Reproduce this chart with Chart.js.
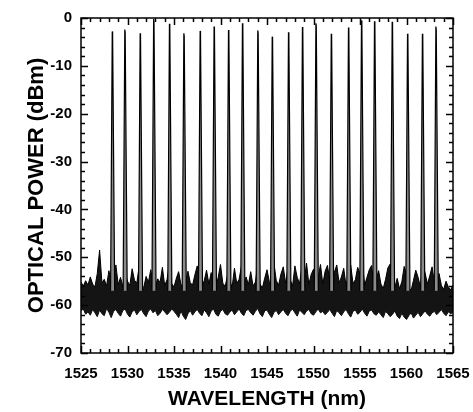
<!DOCTYPE html>
<html>
<head>
<meta charset="utf-8">
<script src="https://cdn.jsdelivr.net/npm/chart.js@4.4.1/dist/chart.umd.min.js"></script>
<style>
  html, body { margin: 0; padding: 0; background: #fff; }
</style>
</head>
<body>
<canvas id="spectrum" width="473" height="412"></canvas>
<script>
'use strict';

// channel wavelengths (nm) and peak powers (dBm)
const peakCenters = [1528.4, 1529.75, 1531.4, 1532.85, 1534.55, 1536.1, 1537.85, 1539.35, 1540.9, 1542.4, 1544.05,
  1545.6, 1547.35, 1548.85, 1550.3, 1551.95, 1553.8, 1555.2, 1556.6, 1558.5, 1560.15, 1561.75, 1563.2];
const peakTops = [-3.4, -3.0, -3.8, -0.8, -1.8, -3.8, -3.3, -2.4, -3.1, -1.7, -3.2,
  -4.5, -3.6, -2.5, -1.7, -3.9, -2.6, -1.1, -1.3, -1.4, -3.9, -3.9, -2.4];
const peakFloor = -57;

// noise floor envelope, sampled every 0.25 nm from 1525 nm
const noiseStart = 1525;
const noiseStep = 0.25;
const noiseTop = [
  -55.2, -56.0, -54.9, -55.8, -54.1, -55.6, -56.2, -53.4,
  -48.5, -55.3, -54.6, -56.0, -52.8, -55.1, -54.3, -51.6,
  -55.7, -54.2, -56.1, -53.3, -55.0, -55.9, -52.4, -54.8,
  -55.4, -51.9, -55.8, -56.3, -54.0, -55.2, -52.6, -55.6,
  -56.0, -54.5, -55.3, -52.1, -55.9, -54.7, -51.4, -55.5,
  -56.2, -54.4, -53.0, -55.7, -56.1, -55.0, -52.9, -55.3,
  -55.8, -53.6, -51.8, -55.4, -56.0, -54.9, -52.7, -55.6,
  -53.2, -55.9, -56.3, -54.2, -51.5, -55.4, -56.1, -53.8,
  -55.0, -56.2, -52.3, -55.5, -54.6, -51.9, -55.8, -54.1,
  -55.7, -53.0, -56.0, -55.2, -51.6, -55.6, -56.4, -54.4,
  -52.6, -55.1, -56.2, -51.3, -54.9, -55.8, -53.5, -52.0,
  -55.4, -52.4, -54.7, -56.0, -51.8, -54.2, -55.5, -52.2,
  -55.0, -51.2, -55.7, -53.6, -52.5, -56.0, -54.3, -51.5,
  -55.6, -52.9, -51.7, -54.8, -56.2, -53.1, -51.6, -55.3,
  -54.1, -52.3, -56.0, -53.7, -51.6, -55.5, -54.7, -52.1,
  -53.4, -51.1, -55.8, -54.2, -52.6, -51.7, -56.1, -54.5,
  -52.8, -55.6, -56.5, -54.6, -52.2, -51.4, -55.2, -56.3,
  -54.4, -56.6, -55.1, -51.9, -53.6, -56.4, -56.9, -54.8,
  -52.7, -54.2, -56.3, -51.5, -53.3, -55.6, -53.9, -52.0,
  -55.3, -56.5, -53.4, -55.9, -56.7, -55.0, -56.2, -56.8,
  -55.8
];
const noiseBottom = [
  -61.2, -60.8, -61.9, -61.4, -62.1, -60.9, -61.6, -62.4,
  -61.0, -61.8, -62.2, -60.7, -61.5, -62.6, -61.3, -60.9,
  -61.7, -62.3, -61.1, -60.8, -61.9, -62.5, -61.4, -61.0,
  -62.0, -61.3, -60.9, -61.8, -62.4, -61.2, -60.8, -61.6,
  -61.1, -62.2, -61.7, -60.9, -61.4, -62.0, -61.5, -60.8,
  -61.3, -61.9, -62.6, -61.2, -62.3, -63.0, -61.8, -61.1,
  -62.1, -61.4, -60.9, -61.7, -62.2, -61.0, -61.6, -62.4,
  -61.2, -60.8, -61.9, -62.3, -61.3, -60.9, -61.8, -62.1,
  -61.5, -61.0, -62.0, -61.4, -60.8, -61.7, -62.2, -61.1,
  -60.9, -61.6, -62.1, -61.3, -60.7, -61.8, -62.4, -61.2,
  -61.0, -61.9, -62.6, -61.5, -61.1, -62.0, -61.4, -60.9,
  -61.7, -62.2, -61.3, -60.8, -61.6, -62.3, -61.0, -61.5,
  -62.0, -61.2, -60.9, -61.8, -62.1, -61.4, -60.8, -61.6,
  -61.3, -62.0, -61.5, -60.9, -61.7, -62.4, -61.1, -61.6,
  -62.2, -61.4, -60.9, -61.8, -62.5, -61.3, -61.0, -61.9,
  -61.5, -60.8, -61.7, -62.3, -61.2, -61.0, -61.8, -62.1,
  -61.4, -62.0, -62.6, -61.3, -61.8, -62.4, -61.9, -61.2,
  -62.3, -62.8, -61.7, -62.5, -63.0, -62.2, -61.6, -62.7,
  -62.1, -61.5, -62.4, -61.8, -61.2, -61.9, -62.3, -61.6,
  -61.3, -62.0, -61.5, -60.9, -61.7, -62.2, -61.4, -61.8,
  -61.5
];

const xTicks = [1525, 1530, 1535, 1540, 1545, 1550, 1555, 1560, 1565];
const yTicks = [0, -10, -20, -30, -40, -50, -60, -70];

const FONT = '"Liberation Sans", Arial, Helvetica, sans-serif';

const toPoints = (vals) => vals.map((v, i) => ({ x: noiseStart + i * noiseStep, y: v }));

const peakSets = peakCenters.map((c, i) => ({
  data: [
    { x: c - 0.22, y: peakFloor },
    { x: c - 0.04, y: peakTops[i] + 0.6 },
    { x: c, y: peakTops[i] },
    { x: c + 0.22, y: peakFloor },
  ],
  borderColor: '#000',
  backgroundColor: '#8a8a8a',
  borderWidth: 1.2,
  pointRadius: 0,
  fill: { value: peakFloor },
}));

// inward ticks on all four sides plus the frame
const innerTicks = {
  id: 'innerTicks',
  afterDraw(chart) {
    const { ctx, chartArea: a, scales: { x, y } } = chart;
    ctx.save();
    ctx.strokeStyle = '#000';
    ctx.lineWidth = 1.5;
    ctx.beginPath();
    for (let v = xTicks[0]; v <= xTicks[xTicks.length - 1]; v += 1) {
      const px = Math.round(x.getPixelForValue(v)) + 0.5;
      const len = v % 5 === 0 ? 7 : 4;
      ctx.moveTo(px, a.bottom); ctx.lineTo(px, a.bottom - len);
      ctx.moveTo(px, a.top); ctx.lineTo(px, a.top + len);
    }
    for (let v = yTicks[yTicks.length - 1]; v <= yTicks[0]; v += 2) {
      const py = Math.round(y.getPixelForValue(v)) + 0.5;
      const len = v % 10 === 0 ? 7 : 4;
      ctx.moveTo(a.left, py); ctx.lineTo(a.left + len, py);
      ctx.moveTo(a.right, py); ctx.lineTo(a.right - len, py);
    }
    ctx.stroke();
    ctx.strokeRect(a.left, a.top, a.width, a.height);
    ctx.restore();
  },
};

new Chart(document.getElementById('spectrum'), {
  type: 'line',
  data: {
    datasets: [
      ...peakSets,
      {
        data: toPoints(noiseTop),
        borderColor: '#000',
        backgroundColor: '#141414',
        borderWidth: 1,
        pointRadius: 0,
        fill: '+1',
      },
      {
        data: toPoints(noiseBottom),
        borderColor: '#000',
        borderWidth: 1,
        pointRadius: 0,
        fill: false,
      },
    ],
  },
  options: {
    responsive: false,
    animation: false,
    devicePixelRatio: 1,
    layout: { padding: { top: 18, right: 20, left: 0, bottom: 0 } },
    plugins: { legend: { display: false }, tooltip: { enabled: false } },
    elements: { line: { tension: 0 } },
    scales: {
      x: {
        type: 'linear',
        min: 1525,
        max: 1565,
        afterBuildTicks: (s) => { s.ticks = xTicks.map(v => ({ value: v })); },
        afterFit: (s) => { s.height = 59; s.paddingLeft = 0; s.paddingRight = 0; },
        grid: { display: false, drawTicks: false },
        border: { display: false },
        ticks: {
          color: '#000',
          padding: 12,
          callback: (v) => String(v),
          font: { family: FONT, size: 15, weight: 'bold' },
        },
        title: {
          display: true,
          text: 'WAVELENGTH (nm)',
          color: '#000',
          padding: 0,
          font: { family: FONT, size: 21, weight: 'bold' },
        },
      },
      y: {
        type: 'linear',
        min: -70,
        max: 0,
        afterBuildTicks: (s) => { s.ticks = yTicks.map(v => ({ value: v })); },
        afterFit: (s) => { s.width = 81; s.paddingTop = 0; s.paddingBottom = 0; },
        grid: { display: false, drawTicks: false },
        border: { display: false },
        ticks: {
          color: '#000',
          padding: 9,
          callback: (v) => String(v),
          font: { family: FONT, size: 15, weight: 'bold' },
        },
        title: {
          display: true,
          text: 'OPTICAL POWER (dBm)',
          color: '#000',
          padding: { top: 24, bottom: 0 },
          font: { family: FONT, size: 22, weight: 'bold' },
        },
      },
    },
  },
  plugins: [innerTicks],
});
</script>
</body>
</html>
